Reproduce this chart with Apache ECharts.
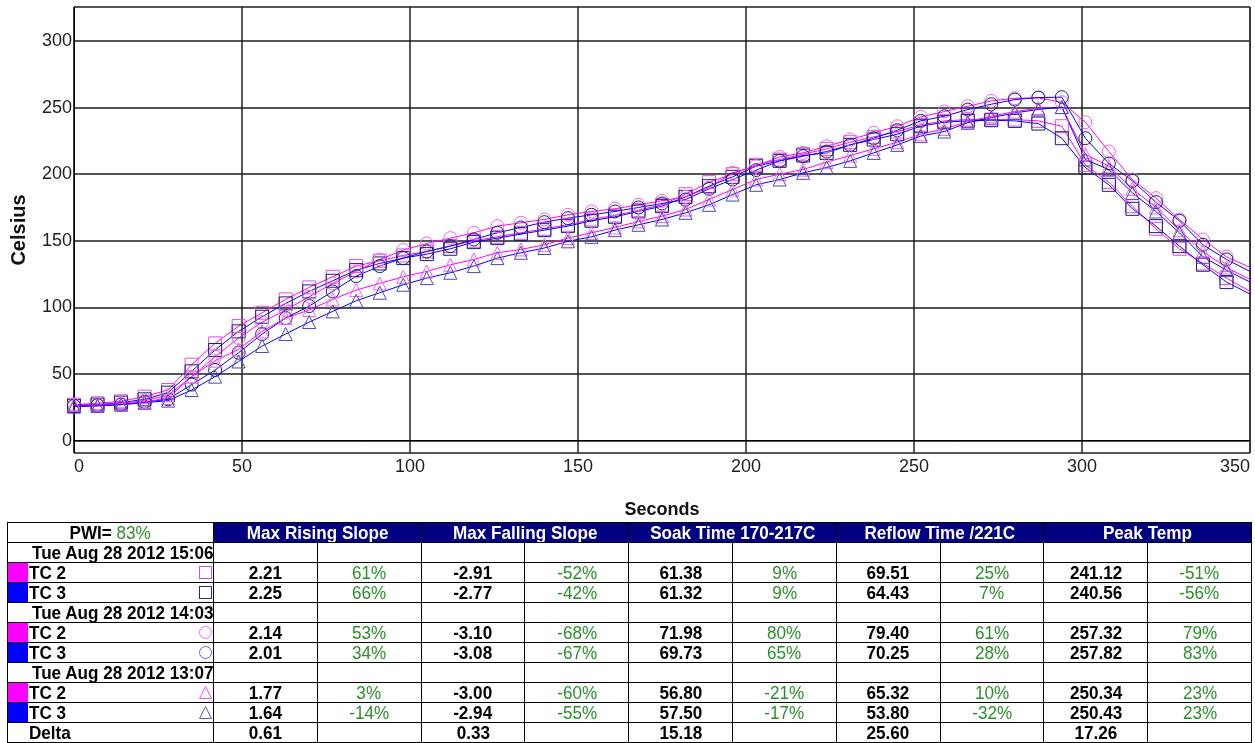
<!DOCTYPE html>
<html>
<head>
<meta charset="utf-8">
<script src="https://cdn.jsdelivr.net/npm/echarts@6/dist/echarts.min.js"></script>
<style>
  body { margin: 0; background: #fff; font-family: "Liberation Sans", Arial, sans-serif; }
  #chart { position: absolute; left: 0; top: 0; width: 1255px; height: 743px; }
  #stats { position: absolute; left: 7px; top: 522px; border-collapse: collapse; table-layout: fixed; width: 1244px; font-size: 19px; }
  #stats td, #stats th { border: 1px solid #000; padding: 0; height: 19px; line-height: 19px; white-space: nowrap; overflow: hidden; text-align: center; }
  #stats th { background: #000080; color: #fff; font-weight: bold; }
  #stats th.pwi { background: #fff; color: #000; }
  /* the reference text is a bit narrow, squeeze it */
  .t { display: inline-block; transform: scaleX(0.9); transform-origin: center; }
  .tl { display: inline-block; transform: scaleX(0.9); transform-origin: left; }
  .g { color: #2a8f2a; font-weight: normal; }
  .num { font-weight: bold; color: #000; }
  .run { text-align: left !important; font-weight: bold; padding-left: 24px !important; }
  .tc { display: flex; align-items: center; height: 19px; font-weight: bold; }
  .sw { width: 20px; height: 19px; margin-right: 1px; flex: none; }
  .sym { margin-left: auto; margin-right: 1px; flex: none; }
</style>
</head>
<body>
<div id="chart"></div>
<table id="stats"></table>
<script>
// time axis (s), markers every 7 s
const seconds = [0, 7, 14, 21, 28, 35, 42, 49, 56, 63, 70, 77, 84, 91, 98, 105, 112, 119, 126, 133, 140, 147, 154, 161, 168, 175, 182, 189, 196, 203, 210, 217, 224, 231, 238, 245, 252, 259, 266, 273, 280, 287, 294, 301, 308, 315, 322, 329, 336, 343, 350];

// Tue Aug 28 2012 15:06 (squares)
const tc2Square = [27, 28, 29.5, 33, 38, 57, 73, 86, 96, 106, 115, 123, 131, 135, 139, 142, 146, 150, 153, 156, 159, 162, 166, 169, 173, 177, 185, 194, 200, 207, 211, 215, 219, 224, 228, 232, 237, 240, 241, 241, 241, 240, 236, 207, 194, 176, 159, 144, 133, 122, 112];
const tc3Square = [26, 27, 28.5, 31, 36, 52, 68, 82, 93, 103, 112, 120, 128, 133, 137, 140, 144, 149, 152, 155, 158, 161, 165, 168, 172, 176, 183, 191, 198, 206, 210, 214, 216, 222, 226, 230, 236, 239, 240, 240.5, 240, 238, 227, 205, 192, 174, 161, 146, 132, 119, 110];
// Tue Aug 28 2012 14:03 (circles)
const tc2Circle = [27, 27, 28, 30, 34, 48, 63, 77, 89, 98, 108, 118, 127, 136, 143, 148, 152, 156, 161, 163.5, 166, 169.5, 172, 174, 177, 180, 183, 190, 201, 206, 213, 216, 221, 226, 231, 236, 243, 247, 251, 255, 257, 257.3, 254, 239, 217, 196, 182, 166, 151, 138, 130];
const tc3Circle = [26, 26.5, 27, 29, 31, 42, 53, 66, 80, 92, 101, 112, 123.5, 131, 137, 142, 146, 151, 156, 160, 164, 167, 169.5, 172, 175, 178, 181, 189, 196, 203, 210, 213.5, 217, 222, 227, 233, 240, 243.5, 248.5, 252.5, 256, 257.5, 257.8, 227, 208, 195, 179, 165, 147, 136, 127];
// Tue Aug 28 2012 13:07 (triangles)
const tc2Triangle = [27, 26.5, 27, 29, 32, 48, 60, 68.5, 82, 92, 98, 106, 113, 118, 123, 127, 132, 136, 141, 143.5, 147, 152, 156, 160, 164.5, 168.5, 173.5, 181, 188.5, 196, 200, 203.5, 209, 214, 219, 224, 230, 234, 239.5, 243.5, 247, 249.5, 250.3, 215, 206, 189, 175, 158, 142, 130, 121];
const tc3Triangle = [25.5, 26, 27, 28.4, 30, 38, 48, 59.4, 71, 80, 89, 97, 105, 111, 117, 122, 126, 131, 137, 141, 144.6, 149.6, 153, 158, 162, 166, 171, 177, 184.7, 192, 196, 201, 205, 210, 216, 222, 228.6, 232, 238.6, 242.4, 246, 248.6, 250.4, 211, 203.5, 186, 172, 156, 138, 128, 119];

const yTicks = [0, 50, 100, 150, 200, 250, 300];

// stats table
const pwiValue = '83%';
const statHeaders = ['Max Rising Slope', 'Max Falling Slope', 'Soak Time 170-217C', 'Reflow Time /221C', 'Peak Temp'];
const runLabels = ['Tue Aug 28 2012 15:06', 'Tue Aug 28 2012 14:03', 'Tue Aug 28 2012 13:07'];
const statTc2Square = ['2.21', '61%', '-2.91', '-52%', '61.38', '9%', '69.51', '25%', '241.12', '-51%'];
const statTc3Square = ['2.25', '66%', '-2.77', '-42%', '61.32', '9%', '64.43', '7%', '240.56', '-56%'];
const statTc2Circle = ['2.14', '53%', '-3.10', '-68%', '71.98', '80%', '79.40', '61%', '257.32', '79%'];
const statTc3Circle = ['2.01', '34%', '-3.08', '-67%', '69.73', '65%', '70.25', '28%', '257.82', '83%'];
const statTc2Triangle = ['1.77', '3%', '-3.00', '-60%', '56.80', '-21%', '65.32', '10%', '250.34', '23%'];
const statTc3Triangle = ['1.64', '-14%', '-2.94', '-55%', '57.50', '-17%', '53.80', '-32%', '250.43', '23%'];
const statDelta = ['0.61', '', '0.33', '', '15.18', '', '25.60', '', '17.26', ''];

const seriesDefs = [
  { name: 'TC 2', run: 0, data: tc2Square, symbol: 'rect', line: '#ff00ff', mark: '#e050e0' },
  { name: 'TC 3', run: 0, data: tc3Square, symbol: 'rect', line: '#0000ff', mark: '#1c1c78' },
  { name: 'TC 2', run: 1, data: tc2Circle, symbol: 'circle', line: '#ff00ff', mark: '#f060f0' },
  { name: 'TC 3', run: 1, data: tc3Circle, symbol: 'circle', line: '#0000ff', mark: '#1c1c78' },
  { name: 'TC 2', run: 2, data: tc2Triangle, symbol: 'triangle', line: '#ff00ff', mark: '#f060f0' },
  { name: 'TC 3', run: 2, data: tc3Triangle, symbol: 'triangle', line: '#0000ff', mark: '#4a4ab8' }
];

const chart = echarts.init(document.getElementById('chart'), null, { renderer: 'canvas' });
const lastIdx = seconds.length - 1;

const option = {
  animation: false,
  grid: { left: 74, right: 5, top: 7, bottom: 290, outerBoundsMode: 'none', show: true, borderColor: '#000', borderWidth: 1 },
  xAxis: {
    type: 'value',
    min: 0,
    max: 350,
    interval: 50,
    name: 'Seconds',
    nameLocation: 'middle',
    nameGap: 48,
    nameTextStyle: { color: '#111', fontSize: 18, fontWeight: 'bold', fontFamily: 'Liberation Sans' },
    axisLine: { lineStyle: { color: '#000', width: 1 } },
    axisTick: { show: false },
    axisLabel: { color: '#222', fontSize: 18, margin: 5, fontFamily: 'Liberation Sans', alignMinLabel: 'left', alignMaxLabel: 'right' },
    splitLine: { show: true, lineStyle: { color: '#222', width: 1.5 } }
  },
  yAxis: {
    type: 'value',
    min: -9.3,
    max: 325.5,
    name: 'Celsius',
    nameLocation: 'middle',
    nameGap: 45,
    nameTextStyle: { color: '#111', fontSize: 20, fontWeight: 'bold', fontFamily: 'Liberation Sans' },
    axisLine: { show: true, lineStyle: { color: '#000', width: 1 } },
    axisTick: { show: false },
    axisLabel: {
      color: '#222', fontSize: 18, margin: 2, fontFamily: 'Liberation Sans',
      formatter: v => (yTicks.indexOf(v) >= 0 ? String(v) : '')
    },
    splitLine: { show: true, lineStyle: { color: '#555', width: 2 } }
  },
  series: seriesDefs.map(s => ({
    type: 'line',
    name: s.name,
    data: seconds.map((t, i) => [t, s.data[i]]),
    symbol: s.symbol,
    symbolSize: (v, p) => (p.dataIndex === lastIdx ? 0 : 13),
    showAllSymbol: true,
    lineStyle: { color: s.line, width: 1 },
    itemStyle: { color: 'rgba(0,0,0,0)', borderColor: s.mark, borderWidth: 1 },
    emphasis: { disabled: true },
    silent: true
  }))
};
chart.setOption(option);

// table
function symSvg(shape, color) {
  let body = '';
  if (shape === 'rect') body = '<rect x="0.5" y="0.5" width="12" height="12" fill="none" stroke="' + color + '"/>';
  if (shape === 'circle') body = '<circle cx="6.5" cy="6.5" r="6" fill="none" stroke="' + color + '"/>';
  if (shape === 'triangle') body = '<polygon points="6.5,0.5 12.5,12.5 0.5,12.5" fill="none" stroke="' + color + '"/>';
  return '<svg class="sym" width="13" height="13">' + body + '</svg>';
}
const t = s => '<span class="t">' + s + '</span>';
const tl = s => '<span class="tl">' + s + '</span>';
function statCells(vals) {
  return vals.map((v, i) => '<td class="' + (i % 2 ? 'g' : 'num') + '">' + (v ? t(v) : '') + '</td>').join('');
}
const tableSymbols = [
  { shape: 'rect', color: '#cc55cc', stats: statTc2Square, sw: '#ff00ff' },
  { shape: 'rect', color: '#2a2a80', stats: statTc3Square, sw: '#0000ff' },
  { shape: 'circle', color: '#ee66ee', stats: statTc2Circle, sw: '#ff00ff' },
  { shape: 'circle', color: '#6464c0', stats: statTc3Circle, sw: '#0000ff' },
  { shape: 'triangle', color: '#ee55ee', stats: statTc2Triangle, sw: '#ff00ff' },
  { shape: 'triangle', color: '#6060b8', stats: statTc3Triangle, sw: '#0000ff' }
];
let html = '<colgroup><col style="width:206px">';
for (let i = 0; i < 10; i++) html += '<col style="width:103.8px">';
html += '</colgroup>';
html += '<tr><th class="pwi">' + t('PWI= <span class="g">' + pwiValue + '</span>') + '</th>' +
  statHeaders.map(h => '<th colspan="2">' + t(h) + '</th>').join('') + '</tr>';
runLabels.forEach((label, r) => {
  html += '<tr><td class="run">' + tl(label) + '</td>' + '<td></td>'.repeat(10) + '</tr>';
  seriesDefs.forEach((s, k) => {
    if (s.run !== r) return;
    const ts = tableSymbols[k];
    html += '<tr><td><div class="tc"><span class="sw" style="background:' + ts.sw + '"></span>' + tl(s.name) +
      symSvg(ts.shape, ts.color) + '</div></td>' + statCells(ts.stats) + '</tr>';
  });
});
html += '<tr><td class="run" style="padding-left:21px !important">' + tl('Delta') + '</td>' + statCells(statDelta) + '</tr>';
document.getElementById('stats').innerHTML = html;

window.addEventListener('resize', () => chart.resize());
</script>
</body>
</html>
